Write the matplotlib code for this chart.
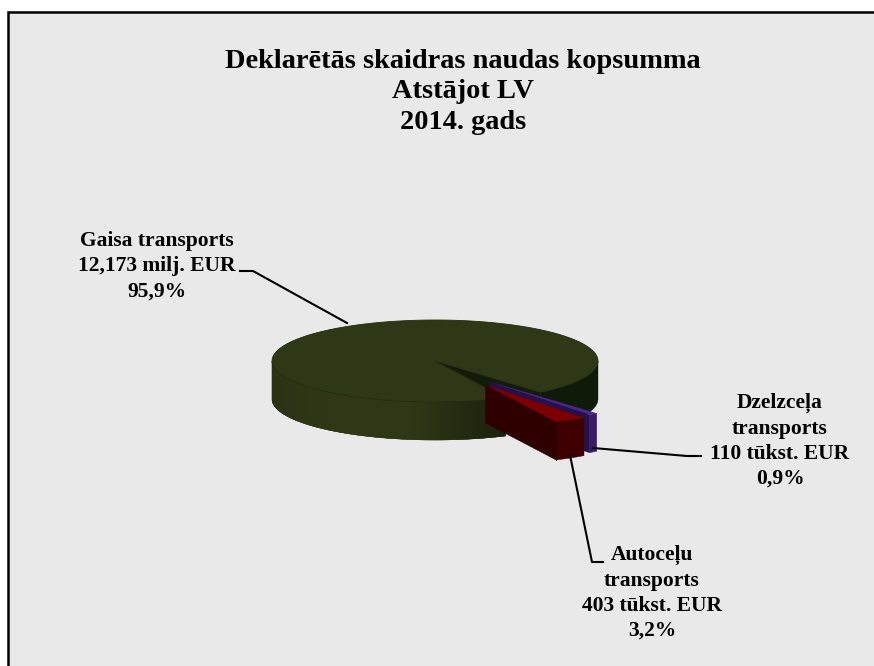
import matplotlib
matplotlib.use('Agg')
import matplotlib.pyplot as plt
import numpy as np
from matplotlib.colors import to_rgb

names = ['Gaisa transports', 'Autoceļu\ntransports', 'Dzelzceļa\ntransports']
amounts = ['12,173 milj. EUR', '403 tūkst. EUR', '110 tūkst. EUR']
shares = [95.9, 3.2, 0.9]
percent_labels = ['95,9%', '3,2%', '0,9%']
title_lines = 'Deklarētās skaidras naudas kopsumma\nAtstājot LV\n2014. gads'

CX, CY = 435, 361
RX, RY = 163, 41
DEPTH = 38
START = -49.6
# offset of each slice from the centre, in radius units
explode = [(0, 0), (0.31, 0.585), (0.344, 0.512)]
BG = '#e9e9e9'

plt.rcParams['font.family'] = ['Liberation Serif', 'DejaVu Serif']

fig = plt.figure(figsize=(8.74, 6.66), dpi=100, facecolor='white')
ax = fig.add_axes([0, 0, 1, 1])
ax.set_xlim(0, 874)
ax.set_ylim(666, 0)
ax.axis('off')

ax.fill([8, 874, 874, 8], [12, 12, 666, 666], color=BG, lw=0)
ax.plot([8, 8, 874], [666, 12, 12], color='black', lw=1.8, solid_joinstyle='miter')


def rim(a0, a1, cx, cy, n=120):
    t = np.radians(np.linspace(a0, a1, n))
    return cx + RX * np.cos(t), cy - RY * np.sin(t)


def side(a0, a1, cx, cy, color):
    x, y = rim(a0, a1, cx, cy)
    ax.fill(np.r_[x, x[::-1]], np.r_[y, y[::-1] + DEPTH], color=color, lw=0.3)


def face(p, q, color):
    ax.fill([p[0], q[0], q[0], p[0]], [p[1], q[1], q[1] + DEPTH, p[1] + DEPTH], color=color, lw=0.3)


def top(a0, a1, cx, cy, color, edge=None):
    x, y = rim(a0, a1, cx, cy)
    ax.fill(np.r_[cx, x], np.r_[cy, y], color=color, lw=0.6 if edge else 0, ec=edge)


# slice angles, running counter-clockwise from START
bounds = START + np.cumsum([0] + shares) * 3.6
centers = [(CX + e[0] * RX, CY + e[1] * RY) for e in explode]

# big slice: cut face, dark right rim, shaded front rim, top
big0, big1 = bounds[0], bounds[1]
x0, y0 = rim(big0, big0, CX, CY, 2)
face((CX, CY), (x0[0], y0[0]), '#121c08')
side(big0, 0, CX, CY, '#101a08')

left_col = np.array(to_rgb('#2a3114'))
mid_col = np.array(to_rgb('#2f3716'))
right_col = np.array(to_rgb('#1a200c'))
steps = np.linspace(180, big1, 60)
for a0, a1 in zip(steps[:-1], steps[1:]):
    f = (a0 - 180) / (big1 - 180)
    if f < 0.45:
        col = left_col + (mid_col - left_col) * f / 0.45
    elif f < 0.7:
        col = mid_col
    else:
        col = mid_col + (right_col - mid_col) * (f - 0.7) / 0.3
    side(a0, min(a1 + 2, big1), CX, CY, tuple(col))
top(big0, big1, CX, CY, '#2f3816', edge='#232a10')

# purple slice
pc = centers[2]
a0, a1 = bounds[2] - 360, bounds[3] - 360
side(a0, a1, pc[0], pc[1], '#3b1a6b')
x, y = rim(a0, a0, pc[0], pc[1], 2)
face(pc, (x[0], y[0]), '#27114a')
top(a0, a1, pc[0], pc[1], '#4c2490')

# red slice
rc = centers[1]
a0, a1 = bounds[1] - 360, bounds[2] - 360
x, y = rim(a0, a0, rc[0], rc[1], 2)
face(rc, (x[0], y[0]), '#2e0000')
side(a0, a1, rc[0], rc[1], '#3e0000')
top(a0, a1, rc[0], rc[1], '#7c0000')
ax.plot([x[0], x[0]], [y[0], y[0] + DEPTH], color='#1c0000', lw=0.7)

# leader lines
ax.plot([240, 253, 347], [271, 271, 323], color='black', lw=1.5)
ax.plot([570, 592, 603], [455, 562, 562], color='black', lw=1.5)
ax.plot([593, 687, 701], [448, 456, 456], color='black', lw=1.5)

# texts
ax.text(463, 92, title_lines, ha='center', va='center', fontsize=20.4, fontweight='bold',
        linespacing=1.3, color='black')
label_pos = [(157, 266), (652, 593), (780, 441)]
for name, amount, pct, (lx, ly) in zip(names, amounts, percent_labels, label_pos):
    ax.text(lx, ly, f'{name}\n{amount}\n{pct}', ha='center', va='center', fontsize=15.5,
            fontweight='bold', linespacing=1.34, color='black')

fig.savefig('out.png', dpi=100, facecolor='white')
